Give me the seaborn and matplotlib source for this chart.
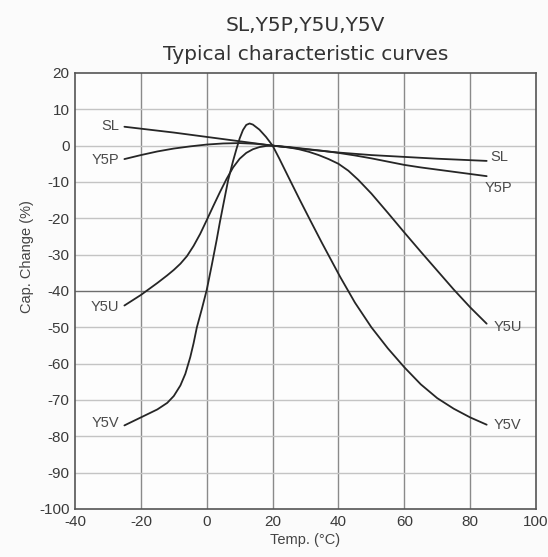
import pandas as pd
import seaborn as sns
import matplotlib.pyplot as plt

# values
temp_sl = [-25, -10, 0, 10, 20, 30, 40, 50, 60, 70, 85]
cap_sl = [5.2, 3.6, 2.4, 1.2, 0, -1.0, -1.9, -2.6, -3.1, -3.6, -4.2]

temp_y5p = [-25, -20, -15, -10, -5, 0, 5, 10, 15, 20, 25, 30, 35, 40, 45, 50, 55, 60, 65, 70, 75, 80, 85]
cap_y5p = [-3.7, -2.6, -1.6, -0.8, -0.2, 0.3, 0.6, 0.7, 0.5, 0, -0.4, -0.9, -1.4, -2.0, -2.7, -3.5, -4.4, -5.3, -6.0, -6.6, -7.2, -7.8, -8.4]

temp_y5u = [-25, -20, -15, -12, -10, -8, -6, -4, -2, 0, 2, 4, 6, 8, 10, 12, 14, 16, 18, 20,
            25, 28, 31, 34, 37, 40, 43, 46, 50, 55, 60, 65, 70, 75, 80, 85]
cap_y5u = [-44, -41.1, -37.8, -35.7, -34.2, -32.5, -30.4, -27.6, -24.3, -20.5, -16.6, -12.8, -9.2, -6.0, -3.6, -2.0, -1.0, -0.4, -0.1, 0,
           -0.5, -1.0, -1.7, -2.6, -3.7, -5.0, -6.9, -9.4, -13.2, -18.5, -23.9, -29.2, -34.4, -39.6, -44.5, -49]

temp_y5v = [-25, -20, -15, -12, -10, -8, -6.5, -5, -4, -3, -1.5, 0, 1.5, 3, 4, 5.3, 6.5, 8, 9, 10, 11, 12, 13, 14, 16, 18, 20,
            22, 25, 28.3, 31.4, 35, 40.5, 45, 50, 55, 60, 65, 70, 75, 80, 85]
cap_y5v = [-77, -74.8, -72.6, -70.8, -68.9, -66, -62.8, -58.2, -54.4, -50, -45, -39.7, -33, -26, -21, -15, -9.5, -4.2, -1.0, 2.0, 4.3, 5.7, 6.1, 5.8, 4.4, 2.4, 0,
            -3.5, -9, -15, -20.5, -26.8, -36.1, -43.2, -50, -55.8, -61, -65.7, -69.5, -72.4, -74.8, -76.8]

series = ['SL', 'Y5P', 'Y5U', 'Y5V']
temps = [temp_sl, temp_y5p, temp_y5u, temp_y5v]
caps = [cap_sl, cap_y5p, cap_y5u, cap_y5v]

# label positions next to the curve ends
left_labels_y = [5.4, -3.9, -44.3, -76.3]
right_labels_y = [-3.0, -11.7, -50.0, -77.0]
right_labels_x = [86, 84.5, 87, 87]

rows = []
for name, t, c in zip(series, temps, caps):
    for a, b in zip(t, c):
        rows.append({'Temp': a, 'Cap': b, 'Type': name})
df = pd.DataFrame(rows)

sns.set_style('white')
plt.rcParams['font.family'] = ['Liberation Sans', 'DejaVu Sans']
plt.rcParams['axes.unicode_minus'] = False

fig = plt.figure(figsize=(5.48, 5.57), dpi=100, facecolor='#fbfbfb')
ax = fig.add_axes([0.1369, 0.0862, 0.8413, 0.7828])
ax.set_facecolor('#fdfdfd')

# grid
for xv in range(-20, 100, 20):
    ax.axvline(xv, color='#8a8a8a', lw=1.0, zorder=1)
for yv in range(-90, 20, 10):
    ax.axhline(yv, color='#6e6e6e' if yv == -40 else '#c4c4c4', lw=1.0, zorder=1)

sns.lineplot(data=df, x='Temp', y='Cap', hue='Type', units='Type', estimator=None,
             sort=False, palette=['#262626'] * 4, legend=False, lw=1.3, ax=ax, zorder=3)

for name, ly, rx, ry in zip(series, left_labels_y, right_labels_x, right_labels_y):
    ax.text(-26.5, ly, name, ha='right', va='center', fontsize=10.5, color='#4a4a4a')
    ax.text(rx, ry, name, ha='left', va='center', fontsize=10.5, color='#4a4a4a')

ax.set_xlim(-40, 100)
ax.set_ylim(-100, 20)
ax.set_xticks(range(-40, 101, 20))
ax.set_yticks(range(-100, 21, 10))
ax.tick_params(length=0, labelsize=11, colors='#3a3a3a', pad=4)
for s in ax.spines.values():
    s.set_color('#555555')
    s.set_linewidth(1.2)

ax.set_xlabel('Temp. (°C)', fontsize=10.5, color='#444444', labelpad=3)
ax.set_ylabel('Cap. Change (%)', fontsize=10.5, color='#444444')
ax.yaxis.set_label_coords(-0.09, 0.58)

fig.text(0.557, 0.955, 'SL,Y5P,Y5U,Y5V', ha='center', va='center', fontsize=14.5,
         family='DejaVu Sans', color='#333333')
fig.text(0.557, 0.903, 'Typical characteristic curves', ha='center', va='center', fontsize=14.5,
         family='DejaVu Sans', color='#333333')

fig.savefig('out.png', dpi=100, facecolor=fig.get_facecolor())
